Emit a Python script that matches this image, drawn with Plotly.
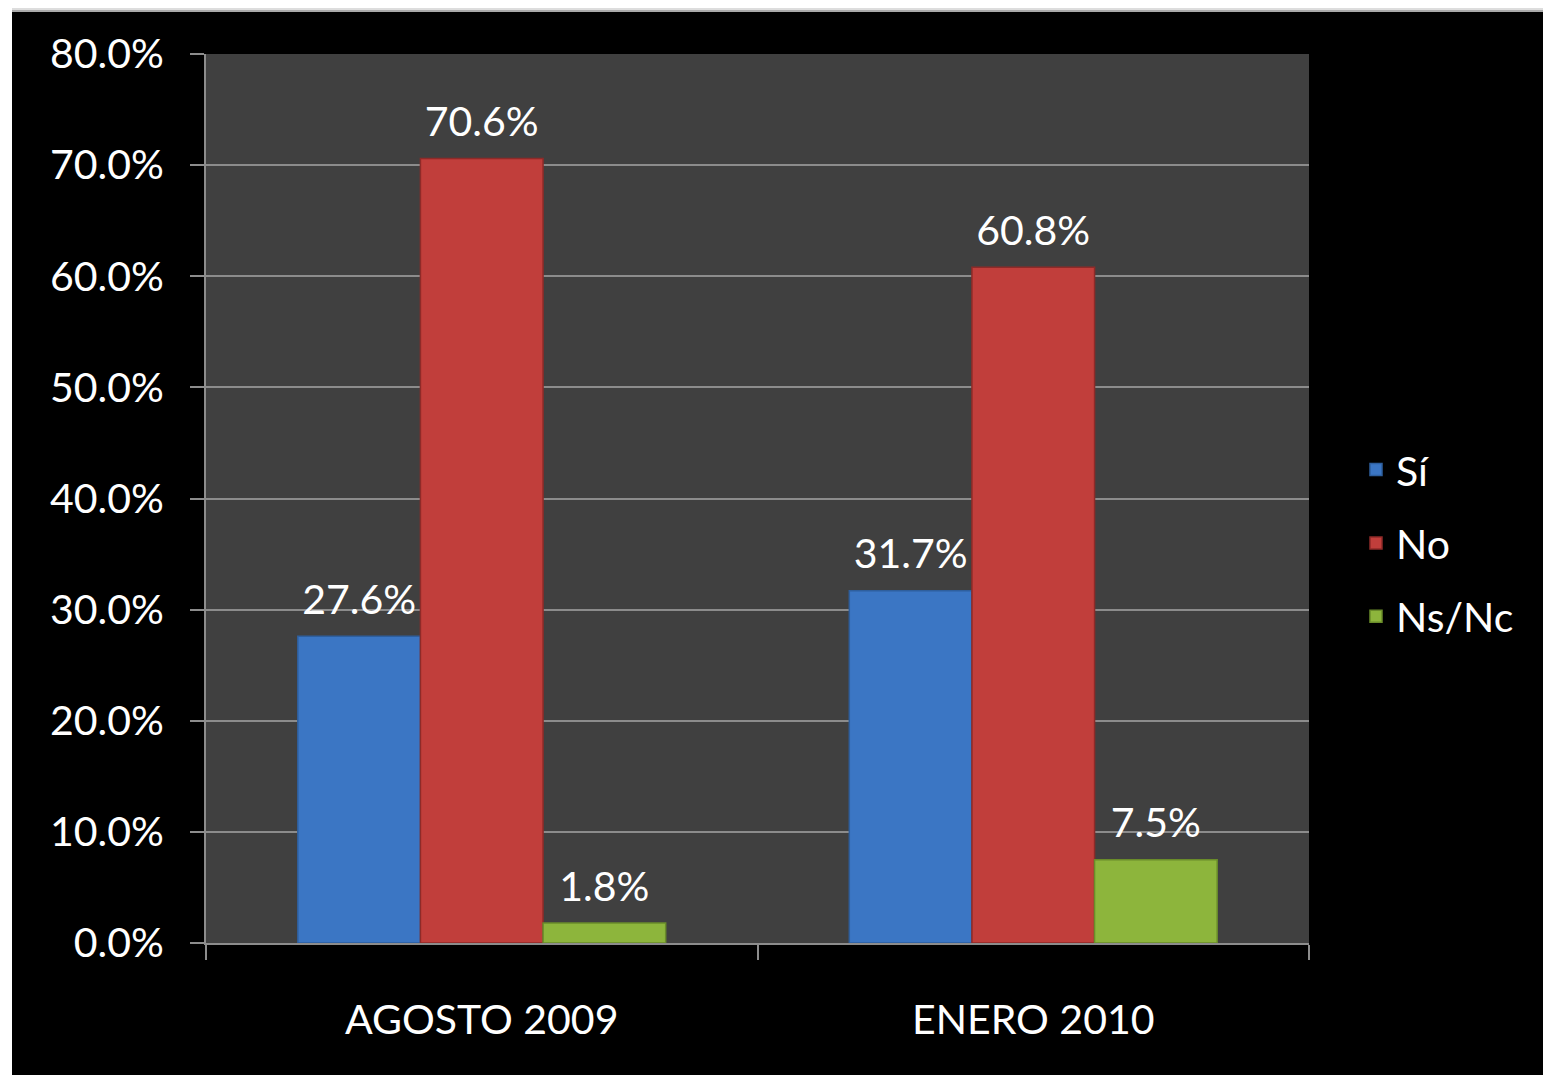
import plotly.graph_objects as go

categories = ["AGOSTO 2009", "ENERO 2010"]
series_names = ["Sí", "No", "Ns/Nc"]
si_values = [0.276, 0.317]
no_values = [0.706, 0.608]
nsnc_values = [0.018, 0.075]
y_tick_values = [0, 0.1, 0.2, 0.3, 0.4, 0.5, 0.6, 0.7, 0.8]
y_tick_labels = ["0.0%", "10.0%", "20.0%", "30.0%", "40.0%", "50.0%", "60.0%", "70.0%", "80.0%"]

colors = ["#3B76C4", "#C13E3B", "#8DB53C"]
line_colors = ["#2E5F9E", "#8E2A28", "#6A8C2A"]

W, H = 1543, 1078
L, R, T, B = 206, 234, 54, 135
pw, ph = W - L - R, H - T - B


def px2x(px):
    return (px - L) / pw


def py2y(py):
    return (H - B - py) / ph


FONT = "Lato"
FS = 41
GAP = 0.333

fig = go.Figure()
for name, vals, c, lc in zip(series_names, [si_values, no_values, nsnc_values], colors, line_colors):
    fig.add_trace(go.Bar(
        x=categories, y=vals, name=name, offsetgroup=name, legendgroup=name,
        marker=dict(color=c, line=dict(color=lc, width=1.5)),
    ))
for name, vals in zip(series_names, [si_values, no_values, nsnc_values]):
    fig.add_trace(go.Scatter(
        x=categories, y=vals, offsetgroup=name, showlegend=False,
        mode="markers+text", marker=dict(size=18, opacity=0),
        text=[f"{v*100:.1f}%" for v in vals], textposition="top center",
        textfont=dict(color="white", size=FS, family=FONT), cliponaxis=False,
        hoverinfo="skip",
    ))

fig.update_layout(
    width=W, height=H,
    margin=dict(l=L, r=R, t=T, b=B),
    paper_bgcolor="black",
    plot_bgcolor="#404040",
    barmode="group", bargap=GAP, bargroupgap=0,
    scattermode="group", scattergap=GAP,
    font=dict(family=FONT, color="white", size=FS),
    showlegend=True,
    legend=dict(x=px2x(1356), y=0.45, xanchor="left", yanchor="middle",
                font=dict(size=FS, color="white", family=FONT),
                bgcolor="rgba(0,0,0,0)", traceorder="grouped", tracegroupgap=17, itemwidth=30),
    xaxis=dict(showgrid=False, showline=True, linecolor="#8c8c8c", linewidth=2,
               ticks="outside", tickson="boundaries", ticklen=15, tickcolor="#8c8c8c", tickwidth=2,
               ticklabelstandoff=40,
               tickfont=dict(size=FS, color="white", family=FONT)),
    yaxis=dict(range=[0, 0.8], tickvals=y_tick_values, ticktext=y_tick_labels,
               showgrid=True, gridcolor="#8c8c8c", gridwidth=1.5,
               showline=True, linecolor="#8c8c8c", linewidth=2,
               ticks="outside", ticklen=14, tickcolor="#8c8c8c", tickwidth=2,
               ticklabelstandoff=18,
               tickfont=dict(size=FS, color="white", family=FONT), zeroline=False),
    shapes=[
        dict(type="rect", xref="paper", yref="paper", x0=px2x(0), x1=px2x(W), y0=py2y(0), y1=py2y(8),
             fillcolor="white", line=dict(width=0), layer="above"),
        dict(type="rect", xref="paper", yref="paper", x0=px2x(0), x1=px2x(W), y0=py2y(8), y1=py2y(10),
             fillcolor="#dddddd", line=dict(width=0), layer="above"),
        dict(type="rect", xref="paper", yref="paper", x0=px2x(0), x1=px2x(W), y0=py2y(10), y1=py2y(12),
             fillcolor="#aaaaaa", line=dict(width=0), layer="above"),
        dict(type="rect", xref="paper", yref="paper", x0=px2x(0), x1=px2x(12), y0=py2y(0), y1=py2y(H),
             fillcolor="white", line=dict(width=0), layer="above"),
        dict(type="rect", xref="paper", yref="paper", x0=px2x(0), x1=px2x(W), y0=py2y(1075), y1=py2y(H),
             fillcolor="white", line=dict(width=0), layer="above"),
    ],
)

fig.write_html("out.html", config={"displayModeBar": False},
               post_script="document.body.style.margin='0';document.body.style.overflow='hidden';")
